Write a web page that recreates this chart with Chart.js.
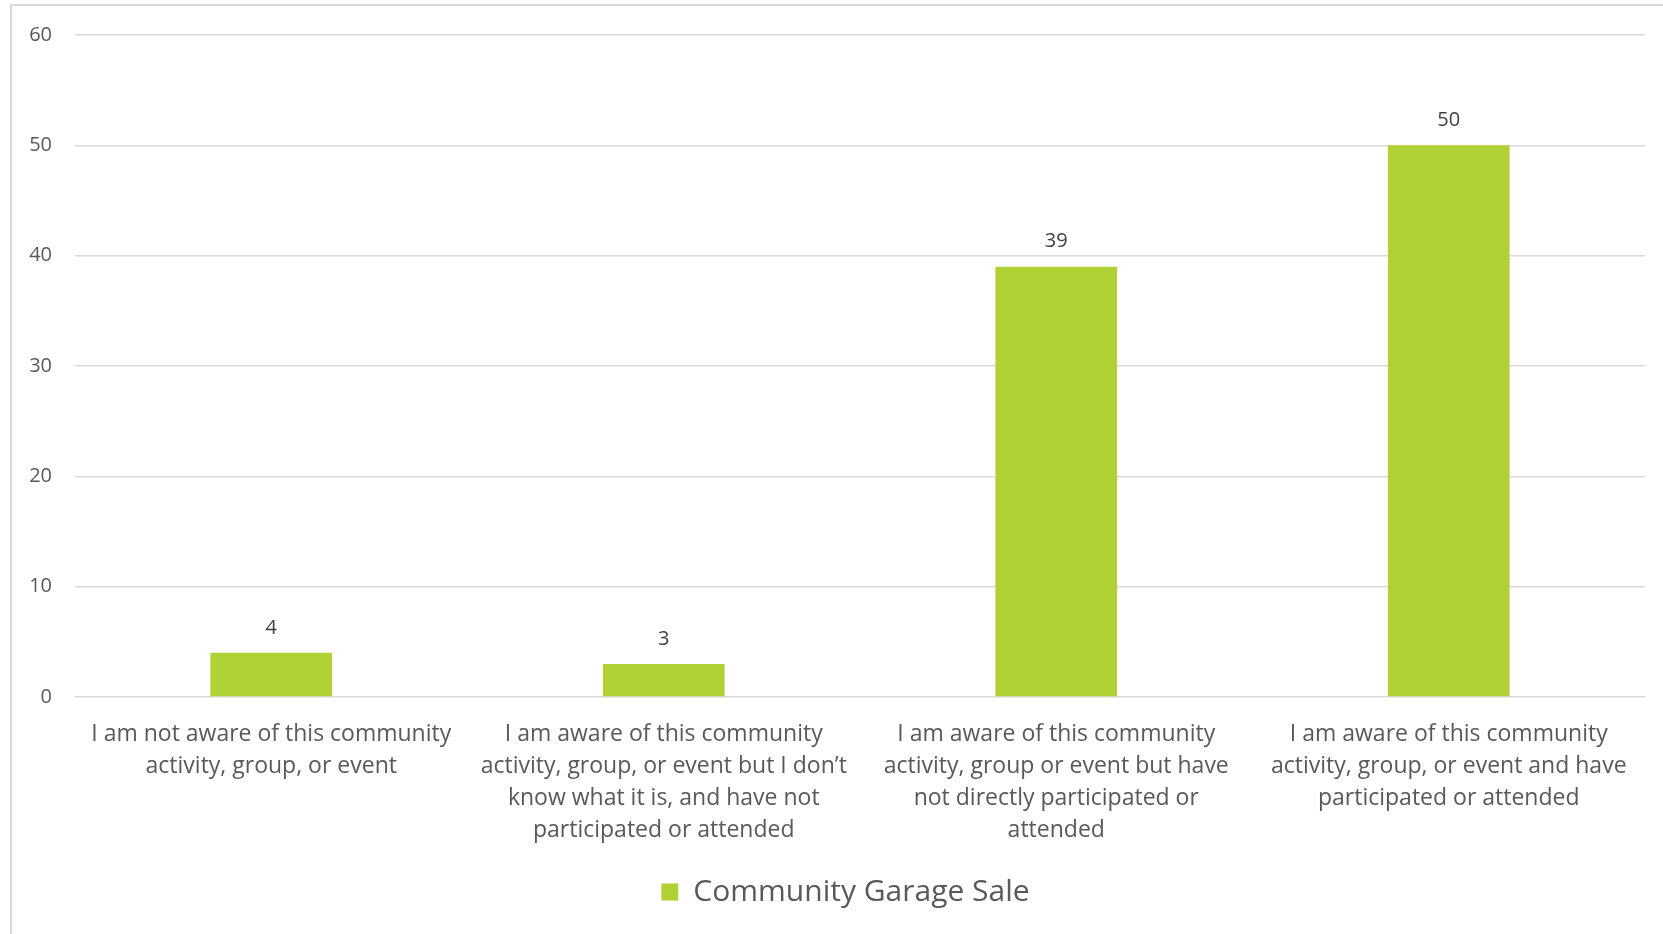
<!DOCTYPE html>
<html>
<head>
<meta charset="utf-8">
<script src="https://cdn.jsdelivr.net/npm/chart.js@4/dist/chart.umd.min.js"></script>
<style>
  html, body { margin: 0; padding: 0; background: #fff; }
  #wrap { position: relative; width: 1663px; height: 934px; overflow: hidden; }
  #frame { position: absolute; left: 10px; top: 4px; width: 2000px; height: 2000px; border: 2px solid #d9d9d9; box-sizing: border-box; }
  canvas { position: absolute; left: 0; top: 0; }
</style>
</head>
<body>
<div id="wrap">
  <div id="frame"></div>
  <canvas id="chart" width="1663" height="934"></canvas>
</div>
<script>
// Data ==========================
const categories = [
    ["I am not aware of this community", "activity, group, or event"],
    ["I am aware of this community", "activity, group, or event but I don\u2019t", "know what it is, and have not", "participated or attended"],
    ["I am aware of this community", "activity, group or event but have", "not directly participated or", "attended"],
    ["I am aware of this community", "activity, group, or event and have", "participated or attended"]
];
const seriesName = "Community Garage Sale";
const seriesValues = [4, 3, 39, 50];
const yTicks = [0, 10, 20, 30, 40, 50, 60];

const barColor = "#b0d136";
const textColor = "#595959";
const fontFamily = "'Open Sans', 'Noto Sans', sans-serif";

// value labels above bars
const valueLabels = {
    id: "valueLabels",
    afterDatasetsDraw(chart) {
        const ctx = chart.ctx;
        const meta = chart.getDatasetMeta(0);
        ctx.save();
        ctx.font = "20px " + fontFamily;
        ctx.fillStyle = "#404040";
        ctx.textAlign = "center";
        ctx.textBaseline = "middle";
        meta.data.forEach((bar, i) => {
            ctx.fillText(String(seriesValues[i]), bar.x, bar.y - 25);
        });
        ctx.restore();
    }
};

// legend sits a bit right of centre in the original
const legendShift = {
    id: "legendShift",
    beforeDraw(chart) {
        if (chart.legend && !chart.legend._shifted) {
            chart.legend.left += 23;
            chart.legend.right += 23;
            chart.legend._shifted = true;
        }
    }
};

// Chart Setup ==========================
const ctx = document.getElementById("chart").getContext("2d");

const chart = new Chart(ctx, {
    type: "bar",
    data: {
        labels: categories,
        datasets: [{
            label: seriesName,
            data: seriesValues,
            backgroundColor: barColor,
            borderWidth: 0,
            categoryPercentage: 1,
            barPercentage: 0.31
        }]
    },
    options: {
        responsive: false,
        animation: false,
        layout: { padding: { top: 29, right: 18, left: 0, bottom: 17 } },
        plugins: {
            tooltip: { enabled: false },
            legend: {
                position: "bottom",
                labels: {
                    boxWidth: 17,
                    boxHeight: 17,
                    padding: 12,
                    color: textColor,
                    font: { family: fontFamily, size: 30 }
                }
            }
        },
        scales: {
            x: {
                grid: { display: false, drawTicks: false },
                border: { display: false },
                ticks: {
                    color: textColor,
                    font: { family: fontFamily, size: 23, lineHeight: 1.4 },
                    padding: 21,
                    maxRotation: 0,
                    autoSkip: false
                },
                afterFit(scale) { scale.height = 168; }
            },
            y: {
                min: 0,
                max: 60,
                afterBuildTicks(scale) { scale.ticks = yTicks.map(v => ({ value: v })); },
                grid: { color: "#d9d9d9", lineWidth: 1.5, drawTicks: false },
                border: { display: false },
                ticks: {
                    color: textColor,
                    font: { family: fontFamily, size: 20 },
                    padding: 23
                },
                afterFit(scale) { scale.width = 75; }
            }
        }
    },
    plugins: [valueLabels, legendShift]
});
</script>
</body>
</html>
